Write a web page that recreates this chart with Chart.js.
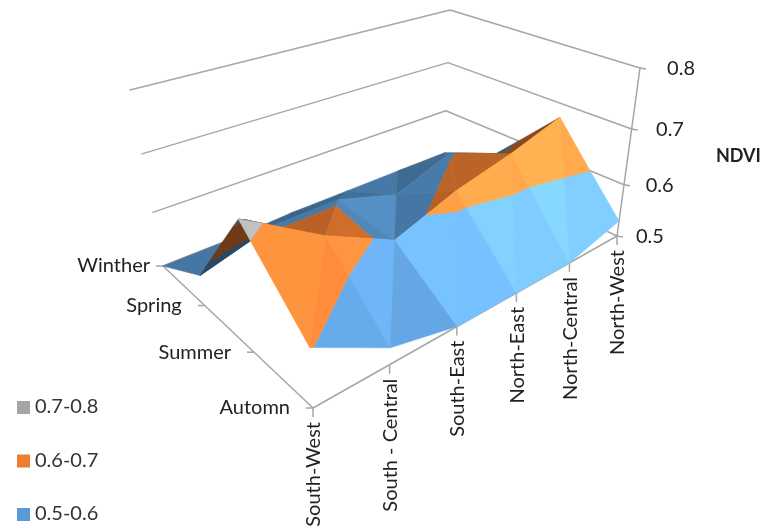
<!DOCTYPE html>
<html lang="en">
<head>
  <meta charset="UTF-8" />
  <title>NDVI surface</title>
  <script src="https://cdn.jsdelivr.net/npm/chart.js"></script>
  <style>
    html, body { margin: 0; background: #fff; }
    canvas { display: block; }
  </style>
</head>
<body>
  <canvas id="chart" width="763" height="532"></canvas>

  <script>
    const regions = ['South-West', 'South - Central', 'South-East', 'North-East', 'North-Central', 'North-West'];
    const seasons = ['Winther', 'Spring', 'Summer', 'Automn'];
    const winter = [0.50, 0.50, 0.505, 0.505, 0.505, 0.505];
    const spring = [0.555, 0.59, 0.59, 0.555, 0.595, 0.555];
    const summer = [0.72, 0.64, 0.58, 0.62, 0.645, 0.675];
    const autumn = [0.603, 0.53, 0.50, 0.50, 0.50, 0.53];
    const zTicks = [0.5, 0.6, 0.7, 0.8];
    const bands = ['0.5-0.6', '0.6-0.7', '0.7-0.8'];
    const bandColors = [[91, 155, 213], [237, 125, 49], [165, 165, 165]];
    const grid = [winter, spring, summer, autumn];

    // box corners in the picture: left, rear, right, front
    const floorQuad = [[163, 266], [444, 155], [617, 236], [313, 408]];
    const topQuad = [[130, 90], [450, 10], [640, 68], [303, 216]];

    function mapSquare(q, u, v) {
      const [p0, p1, p2, p3] = q;
      const dx1 = p1[0] - p2[0], dx2 = p3[0] - p2[0], sx = p0[0] - p1[0] + p2[0] - p3[0];
      const dy1 = p1[1] - p2[1], dy2 = p3[1] - p2[1], sy = p0[1] - p1[1] + p2[1] - p3[1];
      const det = dx1 * dy2 - dx2 * dy1;
      const g = (sx * dy2 - dx2 * sy) / det;
      const h = (dx1 * sy - sx * dy1) / det;
      const w = g * u + h * v + 1;
      return [
        ((p1[0] - p0[0] + g * p1[0]) * u + (p3[0] - p0[0] + h * p3[0]) * v + p0[0]) / w,
        ((p1[1] - p0[1] + g * p1[1]) * u + (p3[1] - p0[1] + h * p3[1]) * v + p0[1]) / w
      ];
    }

    // i = region index, j = season index, z = NDVI
    function project(i, j, z) {
      const s = (z - 0.5) / 0.3;
      const t = s / (s + 1.14 * (1 - s)); // vertical perspective
      const q = floorQuad.map((p, k) => [p[0] + (topQuad[k][0] - p[0]) * t, p[1] + (topQuad[k][1] - p[1]) * t]);
      const [x, y] = mapSquare(q, i / (regions.length - 1), j / (seasons.length - 1));
      return { x, y };
    }

    function clipBelow(poly, limit, keepBelow) {
      const out = [];
      poly.forEach((a, n) => {
        const b = poly[(n + 1) % poly.length];
        const ina = keepBelow ? a[2] <= limit : a[2] >= limit;
        const inb = keepBelow ? b[2] <= limit : b[2] >= limit;
        if (ina) out.push(a);
        if (ina !== inb) {
          const t = (limit - a[2]) / (b[2] - a[2]);
          out.push([a[0] + (b[0] - a[0]) * t, a[1] + (b[1] - a[1]) * t, limit]);
        }
      });
      return out;
    }

    function shade(rgb, f) {
      const extra = f > 1 ? (f - 1) * 70 : 0;
      const c = rgb.map(v => Math.min(255, Math.round(v * f + extra)));
      return `rgb(${c[0]},${c[1]},${c[2]})`;
    }

    const datasets = [];

    function addLine(pts, color, width) {
      datasets.push({
        data: pts, showLine: true, pointRadius: 0, borderColor: color, borderWidth: width,
        fill: false, tension: 0, borderCapStyle: 'round', borderJoinStyle: 'round'
      });
    }

    // walls
    const last = regions.length - 1, back = seasons.length - 1;
    zTicks.forEach(z => {
      addLine([project(0, 0, z), project(last, 0, z), project(last, back, z)], '#a6a6a6', 1.5);
    });
    addLine([project(last, back, 0.5), project(last, back, 0.8)], '#a6a6a6', 1.5);
    addLine([project(0, 0, 0.5), project(0, back, 0.5), project(last, back, 0.5)], '#a6a6a6', 1.5);

    function addTriangle(tri, tone) {
      const [a, b, c] = tri;
      // plane slope of the triangle in grid units
      const ux = b[0] - a[0], uy = b[1] - a[1], uz = b[2] - a[2];
      const vx = c[0] - a[0], vy = c[1] - a[1], vz = c[2] - a[2];
      const nx = uy * vz - uz * vy, ny = uz * vx - ux * vz, nz = ux * vy - uy * vx;
      const dzdi = -nx / nz, dzdj = -ny / nz;
      const slope = dzdj > 0 ? 3.2 * dzdj : 2.2 * dzdj;
      const side = dzdi > 0 ? 1.5 * dzdi : dzdi;
      const f = tone * Math.max(0.38, Math.min(1.27, 0.94 - slope + side));
      bands.forEach((name, k) => {
        let poly = clipBelow(tri, zTicks[k], false);
        if (poly.length) poly = clipBelow(poly, zTicks[k + 1], true);
        if (poly.length < 3) return;
        const pts = poly.map(p => project(p[0], p[1], p[2]));
        pts.push(pts[0]);
        const color = shade(bandColors[k], f);
        datasets.push({
          data: pts, showLine: true, pointRadius: 0, tension: 0,
          borderColor: color, backgroundColor: color, borderWidth: 0.6, fill: 'shape'
        });
      });
    }

    // back rows first, far columns first
    for (let j = 0; j < back; j++) {
      for (let i = last - 1; i >= 0; i--) {
        const A = [i, j, grid[j][i]], B = [i + 1, j, grid[j][i + 1]];
        const C = [i, j + 1, grid[j + 1][i]], D = [i + 1, j + 1, grid[j + 1][i + 1]];
        addTriangle([A, B, C], 1);
        addTriangle([B, D, C], 0.97);
      }
    }
    datasets.forEach((d, n) => { d.order = datasets.length - n; });

    const labelFont = '20px Lato';
    const boxText = {
      id: 'boxText',
      afterDraw(chart) {
        const ctx = chart.ctx;
        const sx = chart.scales.x, sy = chart.scales.y;
        const px = p => [sx.getPixelForValue(p.x), sy.getPixelForValue(p.y)];
        ctx.save();
        ctx.strokeStyle = '#a6a6a6';
        ctx.lineWidth = 1.5;
        ctx.fillStyle = '#222';
        ctx.font = labelFont;

        // season ticks and labels
        ctx.textAlign = 'right';
        ctx.textBaseline = 'middle';
        seasons.forEach((s, j) => {
          const [x, y] = px(project(0, j, 0.5));
          ctx.beginPath(); ctx.moveTo(x, y); ctx.lineTo(x - 7, y); ctx.stroke();
          ctx.fillText(s, x - (j === 0 ? 13 : 23), y);
        });

        // region ticks and labels
        regions.forEach((r, i) => {
          const [x, y] = px(project(i, back, 0.5));
          ctx.beginPath(); ctx.moveTo(x, y); ctx.lineTo(x, y + 9); ctx.stroke();
          ctx.save();
          ctx.translate(x + 1, y + 14);
          ctx.rotate(-Math.PI / 2);
          ctx.textAlign = 'right';
          ctx.fillText(r, 0, 0);
          ctx.restore();
        });

        // value ticks and labels
        ctx.textAlign = 'left';
        zTicks.forEach(z => {
          const [x, y] = px(project(last, back, z));
          ctx.beginPath(); ctx.moveTo(x, y); ctx.lineTo(x + 6, y + 1); ctx.stroke();
          ctx.fillText(z.toFixed(1), x + 19 + (z - 0.5) * 27, y + 1);
        });
        ctx.font = 'bold 18px Lato';
        ctx.fillText('NDVI', 716, 156);

        // legend
        ctx.font = labelFont;
        [2, 1, 0].forEach((k, n) => {
          const y = 407 + n * 53.5;
          ctx.fillStyle = `rgb(${bandColors[k].join(',')})`;
          ctx.fillRect(17, y - 6, 13, 13);
          ctx.fillStyle = '#333';
          ctx.fillText(bands[k], 35, y);
        });
        ctx.restore();
      }
    };

    new Chart(document.getElementById('chart'), {
      type: 'scatter',
      data: { datasets },
      options: {
        responsive: false,
        animation: false,
        layout: { padding: 0 },
        plugins: { legend: { display: false }, tooltip: { enabled: false } },
        scales: {
          x: { type: 'linear', min: 0, max: 763, display: false },
          y: { type: 'linear', min: 0, max: 532, reverse: true, display: false }
        }
      },
      plugins: [boxText]
    });
  </script>
</body>
</html>
